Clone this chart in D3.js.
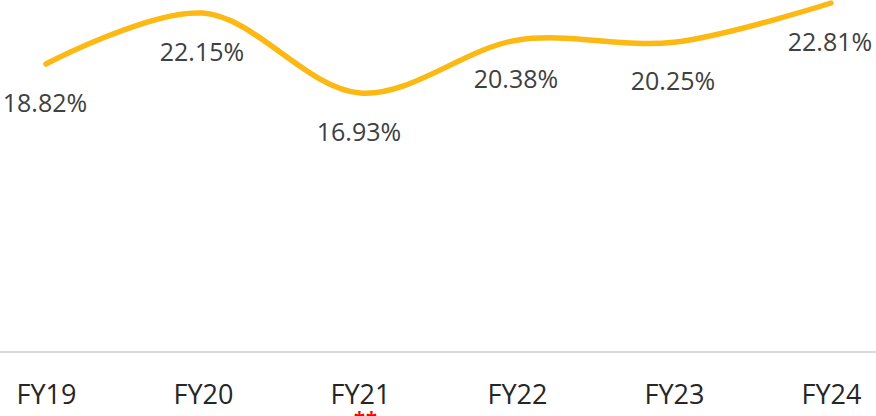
<!DOCTYPE html>
<html>
<head>
<meta charset="utf-8">
<script src="https://cdn.jsdelivr.net/npm/d3@7"></script>
<style>
  html, body { margin: 0; padding: 0; background: #fff; }
  svg { display: block; font-family: "Open Sans", sans-serif; }
</style>
</head>
<body>
<script>
/* Fiscal years and the ratio for each one */
var years = ["FY19", "FY20", "FY21", "FY22", "FY23", "FY24"];
var values = [18.82, 22.15, 16.93, 20.38, 20.25, 22.81];
var valueLabels = ["18.82%", "22.15%", "16.93%", "20.38%", "20.25%", "22.81%"];
var footnoteYear = "FY21";

var width = 876, height = 416;

var svg = d3.select("body").append("svg")
    .attr("width", width)
    .attr("height", height);

/* one slot per year, points sit in the middle of each slot */
var x = d3.scalePoint()
    .domain(years)
    .range([46, 831]);

var y = d3.scaleLinear()
    .domain([0, 22.81])
    .range([352, 3]);

var data = years.map(function(d, i) {
  return {year: d, value: values[i], label: valueLabels[i]};
});

/* baseline axis */
var xAxis = svg.append("g")
    .attr("transform", "translate(0,352)")
    .call(d3.axisBottom(x).tickSize(0).tickPadding(33));

xAxis.select(".domain")
    .attr("d", "M0,0H" + width)
    .attr("stroke", "#d9d9d9")
    .attr("stroke-width", 2);

xAxis.selectAll("text")
    .attr("fill", "#262626")
    .style("font-family", "'Open Sans', sans-serif")
    .style("font-size", "27px");

/* the smoothed line */
var line = d3.line()
    .x(function(d) { return x(d.year); })
    .y(function(d) { return y(d.value); })
    .curve(d3.curveCatmullRom.alpha(0.5));

svg.append("path")
    .datum(data)
    .attr("d", line)
    .attr("fill", "none")
    .attr("stroke", "#fdb913")
    .attr("stroke-width", 5.5)
    .attr("stroke-linecap", "round");

/* value labels sit under each point */
svg.selectAll(".value")
    .data(data)
  .enter().append("text")
    .attr("class", "value")
    .attr("x", function(d) { return x(d.year) - 1; })
    .attr("y", function(d) { return y(d.value) + 48; })
    .attr("text-anchor", "middle")
    .attr("fill", "#404040")
    .style("font-size", "25px")
    .text(function(d) { return d.label; });

/* red footnote marks under FY21 */
svg.append("text")
    .attr("x", x(footnoteYear) + 6)
    .attr("y", 426)
    .attr("text-anchor", "middle")
    .attr("fill", "#ff0000")
    .style("font-size", "20px")
    .style("font-weight", "bold")
    .style("letter-spacing", "1px")
    .text("**");
</script>
</body>
</html>
